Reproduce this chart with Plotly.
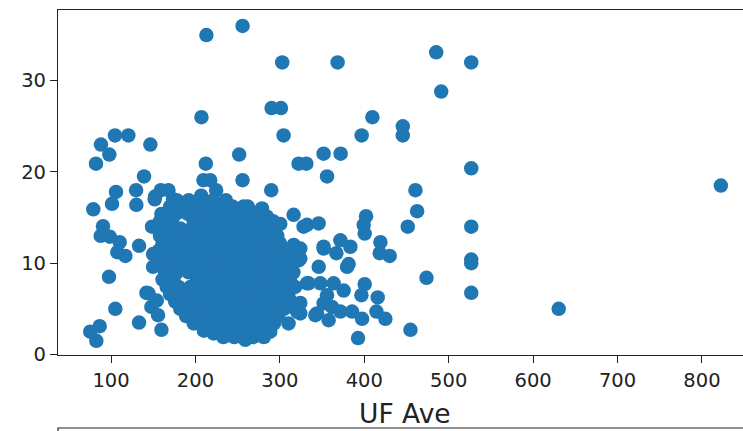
import plotly.graph_objects as go

# Outlying / sparse observations
uf_sparse = [213.0, 255.8, 302.8, 368.4, 485.2, 526.7, 491.1, 207.1, 290.2, 301.3,
             409.6, 445.6, 445.6, 304.4, 396.9, 322.2, 331.3, 351.8, 372.0, 355.9,
             289.8, 460.6, 526.7, 251.8, 255.8, 212.3, 209.5, 217.5, 224.5, 206.8,
             104.7, 120.5, 88.1, 98.0, 82.2, 146.6, 139.1, 129.7, 105.9, 159.0,
             168.0, 152.2,
             462.6, 451.5, 526.7, 526.7, 526.7, 526.7, 473.7, 454.7, 392.6, 630.3,
             822.4,
             101.2, 130.0, 79.0, 151.8, 173.5, 159.7, 90.5, 87.8, 98.5, 110.3,
             107.5, 117.0, 133.2, 148.6, 97.6, 105.1, 133.2, 75.4, 86.6, 82.6,
             159.7, 141.9, 149.8, 149.8, 147.8, 155.7, 154.2, 144.3,
             402.1, 399.3, 400.5, 419.1, 418.3, 430.1, 371.7, 383.5, 351.8, 366.9,
             381.5, 379.6, 346.0, 324.2, 334.0, 348.0, 363.7, 375.6, 400.5, 396.6,
             415.9, 414.4, 425.0, 355.9, 351.8, 361.8, 342.0, 357.8, 371.7, 385.5,
             397.4, 324.2, 324.2, 332.1, 345.9, 324.2, 316.3, 300.5, 284.7, 278.8,
             257.0, 351.8, 316.4, 322.2, 272.8, 296.6, 332.1, 310.3, 320.3, 310.3,
             288.6, 259.0, 221.4, 344.0, 288.6, 328.1, 264.9]
val_sparse = [35.0, 36.0, 32.0, 32.0, 33.1, 32.0, 28.8, 26.0, 27.0, 27.0,
              26.0, 25.0, 24.0, 24.0, 24.0, 20.9, 20.9, 22.0, 22.0, 19.5,
              18.0, 18.0, 20.4, 21.9, 19.1, 20.9, 19.1, 19.1, 18.0, 17.4,
              24.0, 24.0, 23.0, 21.9, 20.9, 23.0, 19.5, 18.0, 17.8, 18.0,
              18.0, 17.3,
              15.7, 14.0, 14.0, 10.4, 10.0, 6.75, 8.4, 2.7, 1.8, 5.0,
              18.5,
              16.5, 16.4, 15.9, 17.0, 17.0, 15.4, 14.05, 13.0, 12.9, 12.3,
              11.2, 10.8, 11.9, 14.0, 8.5, 5.0, 3.5, 2.5, 3.1, 1.5,
              2.7, 6.75, 11.0, 9.6, 5.2, 4.3, 5.9, 6.7,
              15.15, 14.2, 13.25, 12.3, 11.1, 10.8, 12.5, 11.8, 11.6, 11.1,
              9.9, 9.6, 9.6, 10.5, 7.8, 7.8, 7.8, 7.0, 7.7, 6.5,
              6.25, 4.7, 3.9, 6.5, 5.6, 5.2, 4.3, 3.75, 4.7, 4.7,
              3.9, 4.5, 5.65, 14.2, 14.35, 11.6, 15.3, 14.3, 15.1, 16.0,
              16.2, 11.8, 12.0, 10.3, 12.5, 12.5, 7.8, 6.3, 4.7, 3.4,
              2.5, 1.6, 2.3, 4.5, 5.6, 14.0, 15.3]

# Dense central cluster, listed row by row (value, then UF Ave readings)
core_rows = [
    (16.9, [178, 192, 205, 221, 236]),
    (16.2, [170, 186, 199, 213, 228, 244, 262]),
    (15.4, [163, 177, 191, 206, 219, 233, 248, 259, 272]),
    (14.6, [158, 172, 198, 212, 226, 239, 253, 267, 281, 292]),
    (13.8, [156, 169, 182, 196, 210, 224, 237, 250, 264, 277, 289]),
    (13.0, [158, 174, 188, 201, 215, 229, 243, 256, 270, 284, 297]),
    (12.2, [161, 176, 191, 205, 218, 232, 246, 259, 273, 287, 300]),
    (11.4, [157, 170, 184, 197, 211, 225, 239, 252, 266, 280, 294, 308]),
    (10.6, [162, 177, 190, 204, 217, 231, 245, 258, 272, 286, 300, 312]),
    (9.8, [159, 172, 186, 199, 213, 227, 240, 254, 268, 281, 295, 309]),
    (9.0, [164, 178, 192, 205, 219, 233, 246, 260, 274, 288, 302, 316]),
    (8.2, [161, 174, 202, 215, 229, 243, 256, 270, 284, 298, 312]),
    (7.4, [166, 180, 194, 207, 221, 235, 249, 262, 276, 290, 304, 318]),
    (6.6, [170, 184, 197, 211, 225, 238, 252, 266, 279, 293, 307]),
    (5.8, [176, 190, 203, 217, 230, 244, 258, 271, 285, 299, 313]),
    (5.0, [182, 195, 209, 223, 236, 250, 264, 277, 291, 305]),
    (4.2, [189, 202, 216, 230, 243, 257, 271, 284, 298]),
    (3.4, [198, 212, 226, 240, 253, 267, 280, 293]),
    (2.6, [210, 224, 237, 250, 264, 278]),
    (1.9, [233, 246, 268, 281]),
]

x_ticks = [100, 200, 300, 400, 500, 600, 700, 800]
y_ticks = [0, 10, 20, 30]

uf_all = list(uf_sparse)
val_all = list(val_sparse)
for v, xs in core_rows:
    uf_all.extend(xs)
    val_all.extend([v] * len(xs))

fig = go.Figure(go.Scatter(
    x=uf_all, y=val_all, mode="markers",
    marker=dict(color="#1f77b4", size=14.5, line=dict(width=0)),
    showlegend=False,
))

font = dict(family="DejaVu Sans", size=19.5, color="#222222")

fig.update_layout(
    width=743, height=431,
    margin=dict(l=58, r=0, t=10, b=76),
    paper_bgcolor="white", plot_bgcolor="white",
    font=font,
    xaxis=dict(
        range=[37.2, 848.6], tickvals=x_ticks, showgrid=False, zeroline=False,
        showline=True, linecolor="#222222", linewidth=1.2, mirror=True,
        ticks="outside", ticklen=7, tickwidth=1.2, tickcolor="#222222",
        tickfont=font,
    ),
    yaxis=dict(
        range=[-0.06, 37.74], tickvals=y_ticks, showgrid=False, zeroline=False,
        showline=True, linecolor="#222222", linewidth=1.2, mirror=False,
        ticks="outside", ticklen=7, tickwidth=1.2, tickcolor="#222222",
        tickfont=font,
    ),
    annotations=[
        # x-axis label, centred on the full panel width (which runs past the page edge)
        dict(text="UF Ave", xref="paper", yref="paper", x=0.506, y=-0.170,
             xanchor="center", yanchor="middle", showarrow=False,
             font=dict(family="DejaVu Sans", size=26.5, color="#222222")),
    ],
    shapes=[
        # top edge of the panel below
        dict(type="path", xref="paper", yref="paper",
             path="M 0,-0.26 L 0,-0.2116 L 1,-0.2116",
             line=dict(color="#222222", width=1.2)),
    ],
)

fig.write_html("out.html")
